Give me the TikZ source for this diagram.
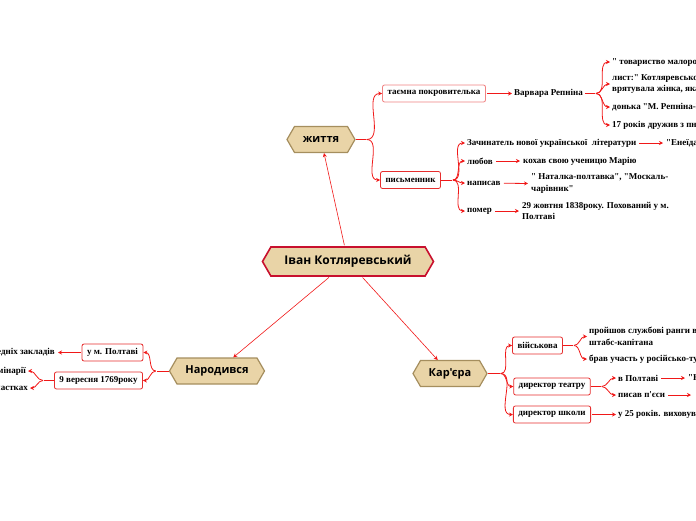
\documentclass[tikz,border=0pt]{standalone}
\usepackage{fontspec}
\setmainfont{Liberation Serif}[Ligatures=TeXOff]
\newfontfamily\hexfont{Open Sans}[Ligatures=TeXOff]
\usetikzlibrary{shapes.symbols,arrows.meta}

\definecolor{linkred}{HTML}{F01818}
\definecolor{boxred}{HTML}{E62E2E}
\definecolor{hexfill}{HTML}{E9D4A7}
\definecolor{hexline}{HTML}{A58E5E}
\definecolor{rootline}{HTML}{C8102E}

\tikzset{
  hexa/.style={signal, signal to=east and west, signal pointer angle=120,
    draw=hexline, fill=hexfill, line width=1.2pt, inner xsep=2pt, inner ysep=0pt,
    minimum height=26pt, font=\hexfont\bfseries\fontsize{11}{13}\selectfont},
  root/.style={hexa, draw=rootline, line width=1.6pt, minimum height=29pt,
    font=\hexfont\bfseries\fontsize{12}{14}\selectfont},
  leaf/.style={draw=boxred, rounded corners=2pt, fill=white, line width=0.8pt,
    inner xsep=5pt, inner ysep=1pt, minimum height=17pt,
    font=\bfseries\fontsize{9}{10}\selectfont},
  note/.style={anchor=west, inner sep=2pt, align=left,
    font=\bfseries\fontsize{9}{11.5}\selectfont},
  link/.style={draw=linkred, line width=0.8pt},
  tip/.style={link, -{Stealth[length=4pt,width=4pt]}, shorten <=1pt},
}

\begin{document}
\begin{tikzpicture}[x=1pt,y=-1pt]
\useasboundingbox (0,0) rectangle (696,520);
\clip (0,0) rectangle (696,520);
% centre and main topics
\node[root, minimum width=171pt] (ivan) at (348,261.5) {Іван Котляревський};
\node[hexa, minimum width=68pt] (life) at (321,139.5) {життя};
\node[hexa, minimum width=95pt] (born) at (217,371) {Народився};
\node[hexa, minimum width=74pt] (career) at (450,373.5) {Кар'єра};
\draw[tip, line width=0.6pt] (ivan) -- (life);
\draw[tip, line width=0.6pt] (ivan) -- (born);
\draw[tip, line width=0.6pt] (ivan) -- (career);

% життя
\node[leaf, draw=boxred!60] (patron) at (434,93.5) {таємна покровителька};
\node[leaf] (writer) at (410.5,180) {письменник};
\draw[link] (life.east) -- ++(10,0) coordinate (lf);
\draw[tip] (lf) to[out=0,in=180] (patron.west);
\draw[tip] (lf) to[out=0,in=180] (writer.west);

\node[note] (varvara) at (512,93.5) {Варвара Репніна};
\draw[tip] (patron) -- (varvara);
\node[note] (r1) at (610,62) {" товариство малоросійських любителів};
\node[note] (r2) at (610,84) {лист:" Котляревського\\врятувала жінка, яка};
\node[note] (r3) at (610,107) {донька "М. Репніна-Волконська};
\node[note] (r4) at (610,125) {17 років дружив з пнею};
\draw[link] (varvara.east) -- ++(10,0) coordinate (vf);
\foreach \n in {r1,r2,r3,r4}
  \draw[tip] (vf) to[out=0,in=180] (\n.west);

\node[note] (z1) at (465,143) {Зачинатель нової української\ \ літератури};
\node[note] (z2) at (465,161) {любов};
\node[note] (z3) at (465,183) {написав};
\node[note] (z4) at (465,211) {помер};
\draw[link] (writer.east) -- ++(11,0) coordinate (wf);
\foreach \n in {z1,z2,z3,z4}
  \draw[tip] (wf) to[out=0,in=180] (\n.west);
\node[note] (e1) at (664,143) {"Енеїда"};
\node[note] (e2) at (521,161) {кохав свою ученицю Марію};
\node[note] (e3) at (529,183.5) {" Наталка-полтавка", "Москаль-\\чарівник"};
\node[note] (e4) at (520,211) {29 жовтня 1838року. Похований у м.\\Полтаві};
\draw[tip, shorten >=1pt] (z1) -- (e1);
\draw[tip, shorten >=1pt] (z2) -- (e2);
\draw[tip, shorten >=1pt] (z3) -- (e3.west);
\draw[tip, shorten >=1pt] (z4) -- (e4.west);

% Кар'єра
\node[leaf] (army) at (537.5,345.5) {військова};
\node[leaf] (theatre) at (552,386.5) {директор театру};
\node[leaf] (school) at (552,414.5) {директор школи};
\draw[link] (career.east) -- ++(12,0) coordinate (cf);
\foreach \n in {army,theatre,school}
  \draw[tip] (cf) to[out=0,in=180] (\n.west);

\node[note] (k1) at (587,336.5) {пройшов службові ранги в армії до\\штабс-капітана};
\node[note] (k2) at (587,359) {брав участь у російсько-турецькій війні};
\draw[link] (army.east) -- ++(10,0) coordinate (af);
\draw[tip] (af) to[out=0,in=180] (k1.west);
\draw[tip] (af) to[out=0,in=180] (k2.west);

\node[note] (t1) at (616,378) {в Полтаві};
\node[note] (t2) at (616,395) {писав п'єси};
\draw[link] (theatre.east) -- ++(10,0) coordinate (tf);
\draw[tip] (tf) to[out=0,in=180] (t1.west);
\draw[tip] (tf) to[out=0,in=180] (t2.west);
\node[note] (p1) at (686,378) {"Наталка-полтавка"};
\node[note] (p2) at (694,395) {"Москаль-чарівник"};
\draw[tip, shorten >=1pt] (t1) -- (p1);
\draw[tip, shorten >=3pt] (t2) -- (p2);

\node[note] (s1) at (616,414.5) {у 25 років. виховував дітей};
\draw[tip] (school) -- (s1);

% Народився
\node[leaf] (poltava) at (112.5,352.5) {у м. Полтаві};
\node[leaf] (date) at (98.5,380.5) {9 вересня 1769року};
\draw[link] (born.west) -- ++(-12,0) coordinate (bf);
\draw[tip] (bf) to[out=180,in=0] (poltava.east);
\draw[tip] (bf) to[out=180,in=0] (date.east);

\node[note, anchor=east] (study) at (57,352.5) {середніх закладів};
\draw[tip, shorten >=1pt] (poltava) -- (study);
\node[note, anchor=east] (sem) at (28,371) {семінарії};
\node[note, anchor=east] (unit) at (30,388) {у військових частках};
\draw[link] (date.west) -- ++(-10,0) coordinate (df);
\draw[tip] (df) to[out=180,in=0] (sem.east);
\draw[tip] (df) to[out=180,in=0] (unit.east);
\end{tikzpicture}
\end{document}
